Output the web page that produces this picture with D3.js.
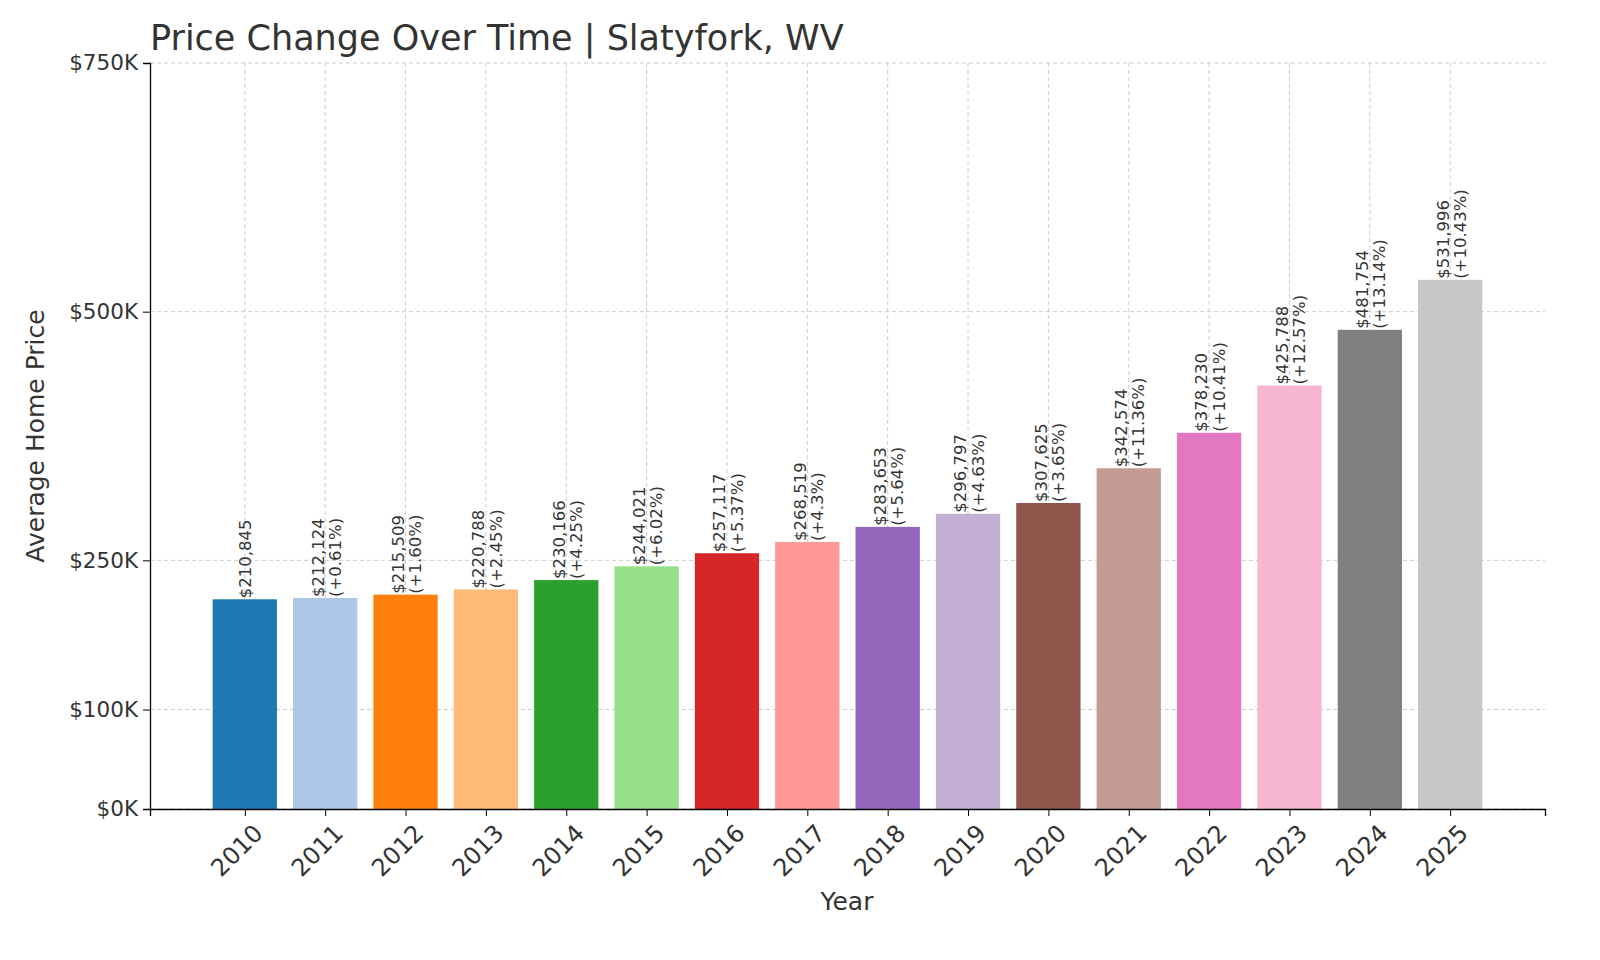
<!DOCTYPE html><html><head><script src="https://cdn.jsdelivr.net/npm/d3@7"></script>
<style>body{margin:0;background:#fff}text{font-family:"DejaVu Sans",sans-serif;fill:#333}</style></head><body>
<svg id="c" width="1600" height="960"></svg>
<script>
const years=["2010","2011","2012","2013","2014","2015","2016","2017","2018","2019","2020","2021","2022","2023","2024","2025"];
const prices=[210845,212124,215509,220788,230166,244021,257117,268519,283653,296797,307625,342574,378230,425788,481754,531996];
const changes=["","+0.61%","+1.60%","+2.45%","+4.25%","+6.02%","+5.37%","+4.3%","+5.64%","+4.63%","+3.65%","+11.36%","+10.41%","+12.57%","+13.14%","+10.43%"];
const colors=["#1f77b4","#aec7e8","#ff7f0e","#ffbb78","#2ca02c","#98df8a","#d62728","#ff9896","#9467bd","#c5b0d5","#8c564b","#c49c94","#e377c2","#f7b6d2","#7f7f7f","#c7c7c7"];
const yTicks=[0,100000,250000,500000,750000];
const svg=d3.select("#c");
const L=150,R=1545,T=63,B=809;
const x=d3.scaleLinear().domain([-1.18,16.18]).range([L,R]);
const y=d3.scaleLinear().domain([0,750000]).range([B,T]);
const g=svg.append("g");
yTicks.forEach(t=>g.append("line").attr("x1",L).attr("x2",R).attr("y1",y(t)).attr("y2",y(t)).attr("stroke","#ccc").attr("stroke-dasharray","4,3"));
years.forEach((d,i)=>g.append("line").attr("x1",x(i)).attr("x2",x(i)).attr("y1",T).attr("y2",B).attr("stroke","#ccc").attr("stroke-dasharray","4,3"));
const bw=x(0.8)-x(0);
years.forEach((d,i)=>{
 g.append("rect").attr("x",x(i)-bw/2).attr("width",bw).attr("y",y(prices[i])).attr("height",B-y(prices[i])).attr("fill",colors[i]);
 const t=g.append("text").attr("transform",`translate(${x(i)},${y(prices[i])-1}) rotate(-90)`).attr("font-size",16.5);
 t.append("tspan").attr("x",0).attr("dy",changes[i]?"-0.1em":"0.35em").text("$"+d3.format(",")(prices[i]));
 if(changes[i]) t.append("tspan").attr("x",0).attr("dy","1.05em").text("("+changes[i]+")");
});
const ya=svg.append("g").attr("transform",`translate(${L},0)`).call(d3.axisLeft(y).tickValues(yTicks).tickFormat(v=>"$"+(v/1000)+"K").tickSize(7));
ya.selectAll("text").attr("font-size",21.5).attr("dx","-2");
const xa=svg.append("g").attr("transform",`translate(0,${B})`).call(d3.axisBottom(x).tickValues(d3.range(16)).tickFormat(i=>years[i]).tickSize(7));
xa.selectAll("text").attr("font-size",24).attr("text-anchor","end").attr("transform","rotate(-45)").attr("dx","-0.2em").attr("dy","0.9em");
svg.selectAll(".domain").attr("stroke","#000").attr("stroke-width",1.3);
svg.append("text").attr("x",150).attr("y",50).attr("font-size",35).text("Price Change Over Time | Slatyfork, WV");
svg.append("text").attr("x",847).attr("y",910).attr("text-anchor","middle").attr("font-size",25).text("Year");
svg.append("text").attr("transform","translate(44,436) rotate(-90)").attr("text-anchor","middle").attr("font-size",25).text("Average Home Price");
</script></body></html>
